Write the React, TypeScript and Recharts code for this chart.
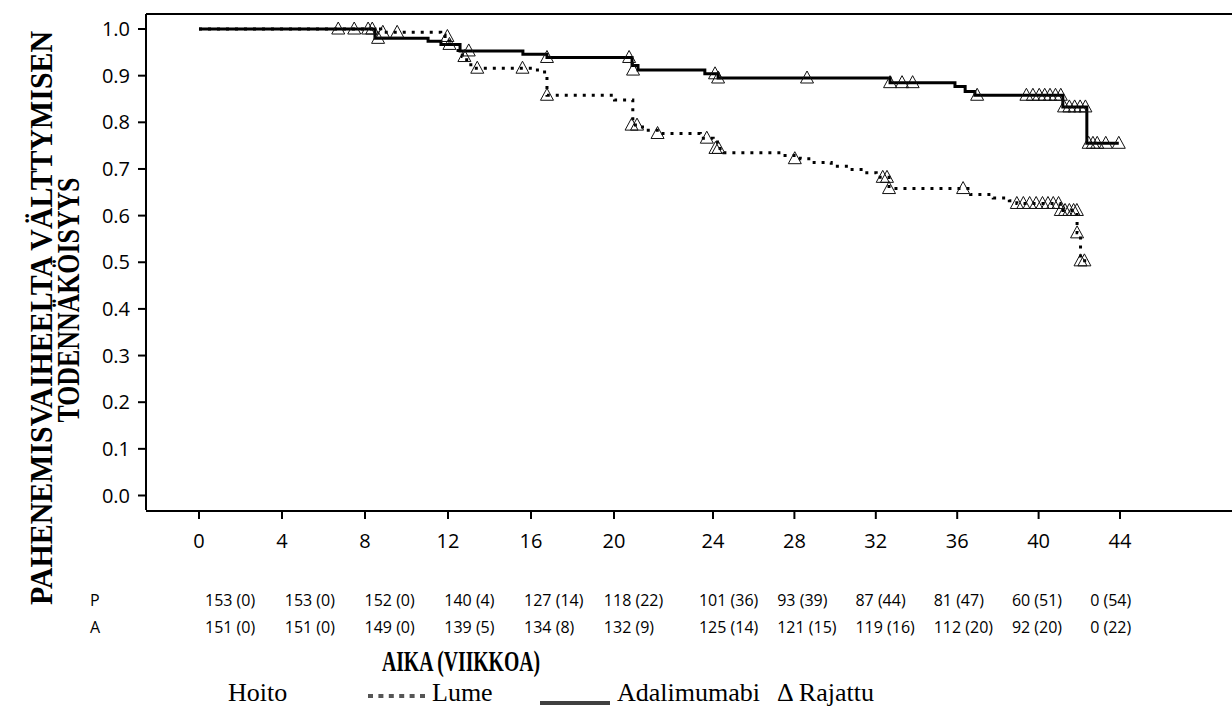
import React from 'react';
import { ComposedChart, Line, Scatter, XAxis, YAxis } from 'recharts';

// ---------- data ----------
const weekTicks = [0, 4, 8, 12, 16, 20, 24, 28, 32, 36, 40, 44];
const probTicks = [0, 0.1, 0.2, 0.3, 0.4, 0.5, 0.6, 0.7, 0.8, 0.9, 1.0];

const riskPlacebo = ['153 (0)', '153 (0)', '152 (0)', '140 (4)', '127 (14)', '118 (22)', '101 (36)', '93 (39)', '87 (44)', '81 (47)', '60 (51)', '0 (54)'];
const riskAdalimumab = ['151 (0)', '151 (0)', '149 (0)', '139 (5)', '134 (8)', '132 (9)', '125 (14)', '121 (15)', '119 (16)', '112 (20)', '92 (20)', '0 (22)'];

// Lume (placebo): step times (weeks) and survival
const placeboTimes = [0, 8.76, 11.65, 11.86, 12.07, 12.38, 12.69, 12.9, 13.1, 16.31, 16.77, 20.02, 20.76, 21.15, 21.84, 23.49, 24.01, 24.22, 24.54, 27.54, 28.29, 28.97, 29.81, 30.65, 31.39, 32.02, 32.65, 36.66, 37.77, 38.56, 38.93, 41.06, 41.89, 42.06, 42.36];
const placeboSurv = [1.0, 0.993, 0.987, 0.98, 0.967, 0.954, 0.941, 0.928, 0.916, 0.908, 0.858, 0.848, 0.794, 0.783, 0.776, 0.766, 0.758, 0.744, 0.735, 0.729, 0.722, 0.714, 0.706, 0.699, 0.692, 0.682, 0.658, 0.645, 0.638, 0.632, 0.626, 0.611, 0.563, 0.503, 0.503];

// Adalimumabi: step times (weeks) and survival
const adalTimes = [0, 8.48, 11.04, 11.66, 12.58, 15.61, 16.77, 20.73, 20.97, 23.67, 24.25, 32.7, 35.89, 36.39, 36.87, 41.19, 42.37, 43.94];
const adalSurv = [1.0, 0.98, 0.974, 0.967, 0.953, 0.946, 0.939, 0.922, 0.912, 0.904, 0.895, 0.885, 0.877, 0.866, 0.858, 0.833, 0.755, 0.755];

// censored observations (Rajattu)
const placeboCensorTimes = [7.48, 8.35, 8.86, 9.55, 11.97, 12.79, 13.41, 15.59, 16.77, 20.71, 20.93, 21.76, 23.75, 24.12, 24.27, 28.02, 32.34, 32.55, 32.65, 36.29, 38.93, 39.25, 39.56, 39.88, 40.19, 40.46, 40.72, 40.98, 41.09, 41.3, 41.51, 41.72, 41.88, 41.89, 42.06, 42.25];
const placeboCensorSurv = [1.0, 1.0, 0.993, 0.993, 0.984, 0.941, 0.916, 0.916, 0.858, 0.794, 0.794, 0.776, 0.766, 0.744, 0.744, 0.722, 0.682, 0.682, 0.658, 0.658, 0.626, 0.626, 0.626, 0.626, 0.626, 0.626, 0.626, 0.626, 0.611, 0.611, 0.611, 0.611, 0.611, 0.563, 0.503, 0.503];

const adalCensorTimes = [6.71, 8.15, 8.63, 12.07, 13.0, 16.77, 20.61, 20.77, 24.1, 24.25, 28.62, 32.7, 33.29, 33.81, 36.98, 39.4, 39.72, 40.03, 40.3, 40.56, 40.83, 41.09, 41.25, 41.51, 41.77, 42.04, 42.3, 42.46, 42.67, 42.88, 43.3, 43.94];
const adalCensorSurv = [1.0, 1.0, 0.98, 0.967, 0.953, 0.939, 0.939, 0.912, 0.904, 0.895, 0.895, 0.885, 0.885, 0.885, 0.858, 0.858, 0.858, 0.858, 0.858, 0.858, 0.858, 0.858, 0.833, 0.833, 0.833, 0.833, 0.833, 0.755, 0.755, 0.755, 0.755, 0.755];

// The reference's time axis is not evenly spaced (the 20–24 week interval is wider);
// these anchors describe that axis so marks and ticks line up as in the picture.
const axisAnchorWeeks = [0, 20, 24, 44];
const axisAnchorUnits = [0, 20, 24.771, 44.386];

const warp = (w: number) => {
  const a = axisAnchorWeeks;
  const u = axisAnchorUnits;
  let k = 0;
  while (k < a.length - 2 && w > a[k + 1]) k++;
  return u[k] + ((w - a[k]) * (u[k + 1] - u[k])) / (a[k + 1] - a[k]);
};

const zip = (ts: number[], ss: number[]) => ts.map((t, i) => ({ t: warp(t), s: ss[i] }));
const placeboData = zip(placeboTimes, placeboSurv);
const adalData = zip(adalTimes, adalSurv);
const placeboCensor = zip(placeboCensorTimes, placeboCensorSurv);
const adalCensor = zip(adalCensorTimes, adalCensorSurv);
const warpedTicks = weekTicks.map(warp);

// ---------- styling ----------
const SANS = "'Open Sans', 'DejaVu Sans', sans-serif";
const SERIF = "'Liberation Serif', 'Times New Roman', serif";

const Triangle = (props: any) => {
  const { cx, cy } = props;
  if (cx == null || cy == null) return null;
  return (
    <path
      d={`M${cx},${cy - 7} L${cx + 6.5},${cy + 5} L${cx - 6.5},${cy + 5} Z`}
      fill="none"
      stroke="#111"
      strokeWidth={1}
    />
  );
};

const tickIndex = (props: any) => {
  if (typeof props.index === 'number') return props.index;
  const v = props.payload ? props.payload.value : NaN;
  let best = -1;
  let bd = Infinity;
  warpedTicks.forEach((t, i) => {
    const d = Math.abs(t - v);
    if (d < bd) {
      bd = d;
      best = i;
    }
  });
  return best;
};

const RiskTick = (props: any) => {
  const { x, y } = props;
  const i = tickIndex(props);
  if (i < 0 || i >= riskPlacebo.length) return null;
  return (
    <g>
      <text x={x} y={y + 90} textAnchor="start" dominantBaseline="central" fontFamily={SANS} fontSize={16} fill="#000">
        {riskPlacebo[i]}
      </text>
      <text x={x} y={y + 117} textAnchor="start" dominantBaseline="central" fontFamily={SANS} fontSize={16} fill="#000">
        {riskAdalimumab[i]}
      </text>
    </g>
  );
};

export default function App() {
  const W = 1232;
  const H = 711;
  return (
    <div style={{ position: 'absolute', left: 0, top: 0, width: W, height: H, overflow: 'hidden', background: '#fff' }}>
      <ComposedChart width={W} height={H} margin={{ top: 13, right: 0, bottom: 199, left: 145 }}>
        <XAxis
          xAxisId="t"
          type="number"
          dataKey="t"
          domain={[-2.554, 49.783]}
          ticks={warpedTicks}
          interval={0}
          height={1}
          tickSize={8}
          tickMargin={15}
          tickFormatter={(v: number, i: number) => String(weekTicks[i] ?? Math.round(v))}
          axisLine={{ stroke: '#000', strokeWidth: 2 }}
          tickLine={{ stroke: '#000', strokeWidth: 2 }}
          tick={{ fill: '#000', fontSize: 20, fontFamily: SANS }}
        />
        <XAxis
          xAxisId="risk"
          type="number"
          dataKey="t"
          domain={[-2.959, 51.5]}
          ticks={warpedTicks}
          interval={0}
          height={1}
          tickSize={0}
          tickMargin={0}
          axisLine={false}
          tickLine={false}
          tick={<RiskTick />}
        />
        <XAxis
          xAxisId="top"
          orientation="top"
          type="number"
          dataKey="t"
          domain={[-2.554, 49.783]}
          height={1}
          tick={false}
          tickLine={false}
          axisLine={{ stroke: '#000', strokeWidth: 2 }}
        />
        <YAxis
          type="number"
          domain={[-0.0311, 1.0322]}
          ticks={probTicks}
          interval={0}
          width={1}
          tickSize={8}
          tickMargin={8}
          tickFormatter={(v: number) => v.toFixed(1)}
          axisLine={{ stroke: '#000', strokeWidth: 2 }}
          tickLine={{ stroke: '#000', strokeWidth: 2 }}
          tick={{ fill: '#000', fontSize: 20, fontFamily: SANS }}
        />
        {/* invisible series so the risk-table axis and top frame axis get a scale */}
        <Line xAxisId="risk" data={adalData} dataKey="s" stroke="none" dot={false} activeDot={false} isAnimationActive={false} legendType="none" />
        <Line xAxisId="top" data={adalData} dataKey="s" stroke="none" dot={false} activeDot={false} isAnimationActive={false} legendType="none" />
        <Line
          xAxisId="t"
          data={placeboData}
          dataKey="s"
          type="stepAfter"
          stroke="#000"
          strokeWidth={3}
          strokeDasharray="3 6"
          dot={false}
          activeDot={false}
          isAnimationActive={false}
        />
        <Line
          xAxisId="t"
          data={adalData}
          dataKey="s"
          type="stepAfter"
          stroke="#000"
          strokeWidth={3}
          dot={false}
          activeDot={false}
          isAnimationActive={false}
        />
        <Scatter xAxisId="t" data={placeboCensor} dataKey="s" shape={<Triangle />} isAnimationActive={false} />
        <Scatter xAxisId="t" data={adalCensor} dataKey="s" shape={<Triangle />} isAnimationActive={false} />
      </ComposedChart>
      <svg width={W} height={H} style={{ position: 'absolute', left: 0, top: 0, pointerEvents: 'none' }}>
        <text
          transform="translate(52,318) rotate(-90)"
          textAnchor="middle"
          fontFamily={SERIF}
          fontWeight="bold"
          fontSize={32}
          textLength={574}
          lengthAdjust="spacingAndGlyphs"
          fill="#000"
        >
          PAHENEMISVAIHEELTA VÄLTTYMISEN
        </text>
        <text
          transform="translate(79,300) rotate(-90)"
          textAnchor="middle"
          fontFamily={SERIF}
          fontWeight="bold"
          fontSize={31}
          textLength={245}
          lengthAdjust="spacingAndGlyphs"
          fill="#000"
        >
          TODENNÄKÖISYYS
        </text>
        <text x={90} y={600} dominantBaseline="central" fontFamily={SANS} fontSize={16} fill="#000">P</text>
        <text x={90} y={627} dominantBaseline="central" fontFamily={SANS} fontSize={16} fill="#000">A</text>
        <text
          x={461}
          y={671}
          textAnchor="middle"
          fontFamily={SERIF}
          fontWeight="bold"
          fontSize={30}
          textLength={158}
          lengthAdjust="spacingAndGlyphs"
          fill="#000"
        >
          AIKA (VIIKKOA)
        </text>
        <text x={228} y={701} fontFamily={SERIF} fontSize={26} fill="#000">Hoito</text>
        {[0, 1, 2, 3, 4, 5].map((i) => (
          <rect key={i} x={368 + i * 10.4} y={694} width={5} height={4} fill="#555" />
        ))}
        <text x={432} y={701} fontFamily={SERIF} fontSize={26} fill="#000">Lume</text>
        <rect x={540} y={701} width={70} height={4} fill="#404040" />
        <text x={617} y={701} fontFamily={SERIF} fontSize={26} fill="#000">Adalimumabi</text>
        <text x={777} y={701} fontFamily={SERIF} fontSize={26} fill="#000">Δ Rajattu</text>
      </svg>
    </div>
  );
}
